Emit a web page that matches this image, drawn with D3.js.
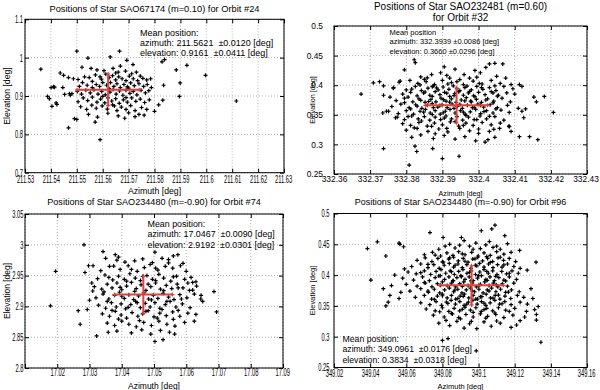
<!DOCTYPE html>
<html>
<head>
<meta charset="utf-8">
<script src="https://cdn.jsdelivr.net/npm/d3@7"></script>
<style>
body { margin: 0; background: #fff; }
svg text { font-family: "Liberation Sans", Arial, Helvetica, sans-serif; fill: #000; }
.grid line { stroke: #b0b0b0; stroke-width: 1; stroke-dasharray: 1,2; }
.axis path { display: none; }
.axis line { stroke: #000; }
</style>
</head>
<body>
<svg id="chart" width="600" height="390"></svg>
<script>
// star positions per orbit, [azimuth, elevation] in deg
var orbit24 = [
  [211.5361,0.970],[211.5387,0.899],[211.5394,0.893],[211.5401,0.922],[211.5414,0.923],[211.5404,0.873],
  [211.5423,0.878],[211.5436,0.960],[211.5449,0.954],[211.5468,0.948],[211.5446,0.922],[211.5453,0.904],
  [211.5468,0.817],[211.5475,0.902],[211.5481,0.906],[211.5491,0.841],[211.5500,0.839],[211.5500,1.017],
  [211.5543,0.999],[211.5571,0.832],[211.5590,0.786],[211.5629,1.002],[211.5665,1.017],[211.5693,0.993],
  [211.5717,0.982],[211.5829,0.989],[211.5839,0.995],[211.5884,0.968],[211.5925,0.980],[211.5899,0.934],
  [211.5896,0.899],[211.5997,0.954],[211.6116,0.887],[211.5835,0.928],[211.5832,0.889],[211.5816,0.877],
  [211.5800,0.860],[211.5410,0.924],[211.5420,0.882],[211.5472,0.906],[211.5487,0.945],
  [211.5520,0.975],[211.5555,0.972],[211.5578,0.968],[211.5605,0.966],[211.5640,0.972],[211.5660,0.962],
  [211.5668,0.978],[211.5688,0.965],[211.5712,0.958],[211.5730,0.962],[211.5745,0.952],
  [211.5505,0.943],[211.5530,0.950],[211.5548,0.948],[211.5572,0.955],[211.5595,0.944],[211.5612,0.957],
  [211.5625,0.948],[211.5638,0.953],[211.5650,0.942],[211.5662,0.950],[211.5675,0.945],[211.5690,0.940],
  [211.5703,0.952],[211.5718,0.945],[211.5735,0.940],[211.5755,0.946],[211.5770,0.942],[211.5785,0.945],
  [211.5510,0.925],[211.5522,0.935],[211.5540,0.928],[211.5560,0.938],[211.5575,0.930],[211.5588,0.925],
  [211.5600,0.935],[211.5615,0.928],[211.5630,0.935],[211.5643,0.925],[211.5655,0.932],[211.5668,0.922],
  [211.5682,0.930],[211.5695,0.924],[211.5708,0.934],[211.5722,0.927],[211.5740,0.932],[211.5758,0.925],
  [211.5772,0.930],[211.5788,0.922],
  [211.5502,0.912],[211.5518,0.905],[211.5535,0.915],[211.5552,0.908],[211.5566,0.916],[211.5582,0.905],
  [211.5596,0.912],[211.5610,0.903],[211.5628,0.910],[211.5640,0.917],[211.5652,0.905],[211.5665,0.913],
  [211.5678,0.902],[211.5690,0.915],[211.5705,0.907],[211.5718,0.912],[211.5732,0.903],[211.5748,0.915],
  [211.5765,0.908],[211.5778,0.914],
  [211.5505,0.885],[211.5525,0.895],[211.5542,0.888],[211.5560,0.897],[211.5578,0.884],[211.5592,0.892],
  [211.5608,0.882],[211.5620,0.895],[211.5635,0.887],[211.5650,0.893],[211.5664,0.881],[211.5680,0.890],
  [211.5695,0.884],[211.5712,0.895],[211.5728,0.886],[211.5745,0.892],[211.5762,0.883],[211.5780,0.890],
  [211.5515,0.872],[211.5538,0.865],[211.5558,0.876],[211.5575,0.868],[211.5598,0.874],[211.5618,0.866],
  [211.5638,0.877],[211.5655,0.862],[211.5672,0.871],[211.5690,0.865],[211.5708,0.875],[211.5725,0.862],
  [211.5750,0.870],[211.5770,0.865],
  [211.5545,0.852],[211.5580,0.845],[211.5620,0.855],[211.5660,0.848],[211.5685,0.842],[211.5700,0.856],
  [211.5725,0.846],[211.5740,0.852],[211.5760,0.850],
  [211.5590,0.950],[211.5650,0.960],[211.5700,0.9205],[211.5625,0.919],[211.5600,0.899],[211.5690,0.896],
  [211.5645,0.874],[211.5560,0.922]
]

var orbit32 = [
  [332.3675,0.385],[332.3709,0.404],[332.3726,0.406],[332.3737,0.399],[332.3737,0.383],[332.3735,0.353],
  [332.3737,0.293],[332.3751,0.356],[332.3755,0.380],[332.3764,0.395],[332.3775,0.346],[332.3783,0.407],
  [332.3808,0.265],[332.3824,0.297],[332.3829,0.288],[332.3873,0.293],[332.3900,0.276],[332.3946,0.280],
  [332.4067,0.436],[332.4113,0.401],[332.4120,0.398],[332.4153,0.380],[332.4160,0.372],[332.4182,0.381],
  [332.4207,0.354],[332.4113,0.313],[332.4141,0.313],[332.4164,0.308],[332.4084,0.331],[332.4120,0.356],
  [332.4125,0.345],[332.4090,0.322],[332.4130,0.360],
  [332.3795,0.426],[332.3822,0.443],[332.3825,0.438],[332.3905,0.431],[332.3935,0.427],[332.3990,0.425],
  [332.4030,0.436],[332.4045,0.437],[332.4020,0.430],
  [332.3840,0.414],[332.3870,0.418],[332.3895,0.421],[332.3920,0.412],[332.3960,0.418],[332.3975,0.412],
  [332.4005,0.421],[332.4050,0.415],[332.4075,0.412],[332.3850,0.410],
  [332.3780,0.405],[332.3810,0.408],[332.3832,0.403],[332.3855,0.406],[332.3878,0.401],[332.3900,0.408],
  [332.3915,0.402],[332.3940,0.406],[332.3958,0.401],[332.3985,0.407],[332.4010,0.402],[332.4035,0.408],
  [332.4060,0.403],[332.4090,0.401],
  [332.3765,0.396],[332.3800,0.392],[332.3825,0.398],[332.3842,0.391],[332.3860,0.395],[332.3875,0.399],
  [332.3888,0.392],[332.3902,0.397],[332.3918,0.393],[332.3930,0.399],[332.3948,0.391],[332.3962,0.396],
  [332.3980,0.392],[332.3995,0.398],[332.4012,0.393],[332.4030,0.396],[332.4048,0.391],[332.4070,0.398],
  [332.4095,0.394],
  [332.3790,0.385],[332.3812,0.388],[332.3830,0.382],[332.3848,0.387],[332.3865,0.383],[332.3880,0.389],
  [332.3893,0.384],[332.3906,0.388],[332.3920,0.381],[332.3934,0.386],[332.3945,0.389],[332.3958,0.383],
  [332.3972,0.387],[332.3986,0.382],[332.4000,0.388],[332.4018,0.384],[332.4035,0.389],[332.4055,0.383],
  [332.4078,0.387],[332.4100,0.385],
  [332.3772,0.374],[332.3795,0.378],[332.3818,0.372],[332.3835,0.377],[332.3852,0.371],[332.3868,0.376],
  [332.3882,0.372],[332.3896,0.378],[332.3910,0.373],[332.3925,0.377],[332.3938,0.371],[332.3952,0.375],
  [332.3966,0.379],[332.3980,0.372],[332.3994,0.376],[332.4008,0.371],[332.4025,0.377],[332.4042,0.373],
  [332.4065,0.378],[332.4088,0.372],
  [332.3760,0.364],[332.3785,0.368],[332.3808,0.362],[332.3826,0.367],[332.3843,0.361],[332.3858,0.366],
  [332.3872,0.369],[332.3887,0.363],[332.3899,0.367],[332.3913,0.362],[332.3927,0.368],[332.3941,0.364],
  [332.3955,0.361],[332.3969,0.366],[332.3983,0.362],[332.3998,0.368],[332.4014,0.363],[332.4032,0.367],
  [332.4052,0.362],[332.4080,0.366],[332.4110,0.361],
  [332.3745,0.356],[332.3778,0.352],[332.3800,0.357],[332.3820,0.351],[332.3838,0.356],[332.3853,0.359],
  [332.3866,0.353],[332.3880,0.357],[332.3894,0.351],[332.3908,0.356],[332.3921,0.359],[332.3935,0.353],
  [332.3950,0.357],[332.3963,0.351],[332.3977,0.355],[332.3992,0.359],[332.4006,0.352],[332.4022,0.357],
  [332.4040,0.353],[332.4062,0.358],[332.4085,0.354],
  [332.3770,0.345],[332.3795,0.342],[332.3815,0.348],[332.3833,0.343],[332.3850,0.347],[332.3865,0.341],
  [332.3880,0.346],[332.3895,0.342],[332.3910,0.348],[332.3925,0.343],[332.3940,0.347],[332.3956,0.341],
  [332.3972,0.346],[332.3988,0.342],[332.4004,0.348],[332.4022,0.343],[332.4045,0.347],[332.4070,0.341],
  [332.3790,0.335],[332.3812,0.332],[332.3835,0.337],[332.3858,0.331],[332.3878,0.336],[332.3900,0.333],
  [332.3922,0.338],[332.3945,0.331],[332.3965,0.336],[332.3985,0.332],[332.4010,0.337],[332.4035,0.333],
  [332.4060,0.336],
  [332.3800,0.324],[332.3830,0.327],[332.3860,0.322],[332.3890,0.326],[332.3915,0.321],[332.3948,0.327],
  [332.3975,0.323],[332.4000,0.326],[332.4030,0.322],[332.4058,0.327],[332.4085,0.330],
  [332.3815,0.312],[332.3840,0.316],[332.3875,0.310],[332.3905,0.315],[332.3935,0.309],[332.3962,0.313],
  [332.3992,0.306],[332.4018,0.304],[332.4026,0.308],[332.4045,0.312],[332.3880,0.318],
  [332.3858,0.4125],[332.3912,0.4165],[332.3948,0.4095],[332.3995,0.4135],
  [332.3838,0.4005],[332.3872,0.3975],[332.3925,0.4045],[332.3968,0.3985],[332.4002,0.4030],[332.4045,0.3990],
  [332.3815,0.3935],[332.3852,0.3885],[332.3884,0.3955],[332.3912,0.3865],[332.3940,0.3940],[332.3975,0.3895],
  [332.4008,0.3960],[332.4040,0.3870],
  [332.3805,0.3800],[332.3840,0.3745],[332.3872,0.3810],[332.3903,0.3755],[332.3932,0.3825],[332.3962,0.3735],
  [332.3990,0.3805],[332.4020,0.3750],[332.4052,0.3815],
  [332.3795,0.3705],[332.3830,0.3645],[332.3862,0.3725],[332.3893,0.3655],[332.3920,0.3715],[332.3948,0.3675],
  [332.3978,0.3730],[332.4005,0.3660],[332.4040,0.3700],
  [332.3812,0.3600],[332.3848,0.3545],[332.3875,0.3620],[332.3902,0.3535],[332.3932,0.3610],[332.3958,0.3545],
  [332.3988,0.3625],[332.4015,0.3555],[332.4048,0.3600],
  [332.3805,0.3470],[332.3842,0.3395],[332.3872,0.3505],[332.3905,0.3445],[332.3935,0.3385],[332.3965,0.3490],
  [332.3995,0.3420],[332.4030,0.3475],
  [332.3822,0.3280],[332.3870,0.3305],[332.3912,0.3270],[332.3958,0.3320],[332.4000,0.3185],[332.4042,0.3255]
]

var orbit74 = [
  [17.0179,2.901],[17.0195,2.957],[17.0283,3.000],[17.0271,2.871],[17.0265,2.893],[17.0293,2.895],
  [17.0297,2.966],[17.0286,2.955],[17.0307,2.938],[17.0311,2.966],[17.0322,2.852],[17.0342,2.989],
  [17.0358,2.858],[17.0380,2.984],[17.0390,2.980],[17.0503,2.843],[17.0528,2.846],[17.0503,2.988],
  [17.0564,2.855],[17.0574,2.984],[17.0625,2.876],[17.0630,2.887],[17.0686,2.924],[17.0694,2.891],
  [17.0646,2.918],[17.0651,2.908],[17.0620,2.939],[17.0300,2.910],[17.0310,2.925],
  [17.0350,2.978],[17.0385,2.975],[17.0410,2.972],[17.0440,2.974],[17.0465,2.977],[17.0495,2.971],
  [17.0525,2.978],[17.0545,2.976],[17.0560,2.982],[17.0590,2.970],
  [17.0335,2.958],[17.0362,2.965],[17.0395,2.960],[17.0420,2.966],[17.0448,2.957],[17.0470,2.963],
  [17.0488,2.968],[17.0512,2.959],[17.0535,2.965],[17.0558,2.962],[17.0582,2.966],[17.0600,2.957],
  [17.0325,2.945],[17.0348,2.951],[17.0372,2.943],[17.0390,2.949],[17.0408,2.944],[17.0425,2.953],
  [17.0442,2.946],[17.0458,2.942],[17.0478,2.950],[17.0495,2.944],[17.0515,2.952],[17.0530,2.946],
  [17.0552,2.941],[17.0570,2.949],[17.0595,2.944],[17.0615,2.947],[17.0630,2.940],
  [17.0315,2.932],[17.0338,2.928],[17.0355,2.936],[17.0370,2.930],[17.0385,2.938],[17.0400,2.927],
  [17.0415,2.933],[17.0430,2.939],[17.0445,2.929],[17.0460,2.935],[17.0475,2.926],[17.0490,2.932],
  [17.0505,2.938],[17.0520,2.928],[17.0538,2.934],[17.0555,2.929],[17.0572,2.936],[17.0590,2.930],
  [17.0610,2.926],[17.0632,2.933],
  [17.0320,2.914],[17.0342,2.920],[17.0360,2.912],[17.0378,2.918],[17.0393,2.923],[17.0408,2.913],
  [17.0422,2.919],[17.0437,2.911],[17.0452,2.917],[17.0468,2.922],[17.0483,2.912],[17.0498,2.918],
  [17.0512,2.913],[17.0528,2.921],[17.0545,2.915],[17.0562,2.911],[17.0580,2.919],[17.0602,2.914],
  [17.0625,2.920],[17.0645,2.912],
  [17.0328,2.902],[17.0350,2.897],[17.0368,2.906],[17.0383,2.899],[17.0398,2.904],[17.0412,2.896],
  [17.0428,2.903],[17.0443,2.908],[17.0458,2.898],[17.0473,2.905],[17.0488,2.899],[17.0503,2.906],
  [17.0518,2.897],[17.0535,2.903],[17.0550,2.908],[17.0568,2.899],[17.0588,2.904],[17.0612,2.898],
  [17.0340,2.888],[17.0362,2.884],[17.0380,2.892],[17.0398,2.886],[17.0415,2.881],[17.0432,2.890],
  [17.0450,2.884],[17.0465,2.888],[17.0482,2.893],[17.0500,2.883],[17.0518,2.889],[17.0538,2.885],
  [17.0558,2.891],[17.0580,2.884],[17.0605,2.889],
  [17.0355,2.873],[17.0378,2.869],[17.0400,2.876],[17.0422,2.871],[17.0445,2.867],[17.0468,2.874],
  [17.0492,2.869],[17.0515,2.876],[17.0540,2.871],[17.0565,2.868],[17.0595,2.874],
  [17.0385,2.860],[17.0430,2.857],[17.0462,2.862],[17.0490,2.855],[17.0520,2.861],[17.0548,2.858],
  [17.0375,2.9655],[17.0430,2.9600],[17.0505,2.9620],[17.0545,2.9705],
  [17.0360,2.9470],[17.0415,2.9410],[17.0465,2.9485],[17.0505,2.9420],[17.0560,2.9480],[17.0605,2.9380],
  [17.0345,2.9235],[17.0395,2.9310],[17.0440,2.9245],[17.0482,2.9360],[17.0530,2.9255],[17.0575,2.9300],
  [17.0620,2.9265],
  [17.0355,2.9080],[17.0400,2.9165],[17.0448,2.9060],[17.0492,2.9105],[17.0540,2.9080],[17.0585,2.9120],
  [17.0370,2.8935],[17.0420,2.8985],[17.0475,2.8920],[17.0525,2.8950],[17.0575,2.8935],
  [17.0390,2.8795],[17.0455,2.8770],[17.0510,2.8810],[17.0560,2.8790]
]

var orbit96 = [
  [349.0385,0.443],[349.0440,0.454],[349.0404,0.392],[349.0487,0.431],[349.0473,0.378],[349.0487,0.350],
  [349.0500,0.356],[349.0509,0.367],[349.0518,0.383],[349.0536,0.400],[349.0560,0.452],[349.0565,0.450],
  [349.0585,0.446],[349.0731,0.469],[349.0800,0.294],[349.0831,0.297],[349.0804,0.461],[349.0905,0.461],
  [349.0987,0.277],[349.1015,0.472],[349.1091,0.481],[349.1073,0.475],[349.1145,0.464],[349.1227,0.440],
  [349.1345,0.291],[349.1318,0.421],[349.1269,0.408],[349.0560,0.362],[349.0590,0.410],[349.0570,0.372],
  [349.1290,0.378],[349.1300,0.362],[349.1330,0.349],
  [349.0780,0.442],[349.0840,0.450],[349.0870,0.444],[349.0920,0.456],[349.0950,0.447],[349.0985,0.452],
  [349.1010,0.443],[349.1040,0.449],[349.1080,0.445],[349.1120,0.442],[349.1160,0.451],
  [349.0700,0.433],[349.0745,0.437],[349.0790,0.431],[349.0825,0.436],[349.0858,0.432],[349.0890,0.438],
  [349.0925,0.433],[349.0962,0.437],[349.0998,0.431],[349.1030,0.436],[349.1065,0.432],[349.1100,0.438],
  [349.1140,0.434],[349.1180,0.437],
  [349.0660,0.424],[349.0705,0.428],[349.0742,0.422],[349.0775,0.427],[349.0805,0.421],[349.0835,0.426],
  [349.0862,0.429],[349.0888,0.423],[349.0915,0.427],[349.0942,0.421],[349.0968,0.426],[349.0995,0.429],
  [349.1022,0.423],[349.1050,0.427],[349.1078,0.422],[349.1108,0.428],[349.1138,0.424],[349.1170,0.427],
  [349.1205,0.422],
  [349.0630,0.414],[349.0680,0.418],[349.0720,0.412],[349.0752,0.417],[349.0782,0.411],[349.0810,0.416],
  [349.0838,0.419],[349.0862,0.413],[349.0886,0.418],[349.0910,0.412],[349.0935,0.417],[349.0958,0.411],
  [349.0982,0.416],[349.1006,0.419],[349.1030,0.413],[349.1055,0.418],[349.1080,0.412],[349.1105,0.417],
  [349.1130,0.413],[349.1160,0.418],[349.1195,0.414],[349.1230,0.411],
  [349.0610,0.405],[349.0655,0.402],[349.0700,0.407],[349.0735,0.401],[349.0765,0.406],[349.0792,0.409],
  [349.0818,0.403],[349.0843,0.407],[349.0866,0.401],[349.0890,0.406],[349.0913,0.409],[349.0936,0.403],
  [349.0960,0.407],[349.0983,0.401],[349.1007,0.405],[349.1030,0.409],[349.1054,0.403],[349.1078,0.407],
  [349.1102,0.401],[349.1128,0.406],[349.1155,0.402],[349.1185,0.407],[349.1220,0.403],
  [349.0580,0.395],[349.0640,0.392],[349.0690,0.397],[349.0728,0.391],[349.0760,0.396],[349.0788,0.399],
  [349.0812,0.393],[349.0836,0.397],[349.0858,0.391],[349.0880,0.396],[349.0902,0.399],[349.0925,0.393],
  [349.0948,0.397],[349.0970,0.391],[349.0994,0.395],[349.1016,0.399],[349.1040,0.393],[349.1063,0.397],
  [349.1088,0.391],[349.1112,0.396],[349.1140,0.392],[349.1170,0.397],[349.1210,0.393],
  [349.0600,0.385],[349.0660,0.382],[349.0705,0.387],[349.0742,0.381],[349.0772,0.386],[349.0800,0.389],
  [349.0826,0.383],[349.0850,0.387],[349.0873,0.381],[349.0896,0.386],[349.0918,0.389],[349.0942,0.383],
  [349.0965,0.387],[349.0988,0.381],[349.1010,0.385],[349.1034,0.389],[349.1058,0.383],[349.1082,0.387],
  [349.1106,0.381],[349.1132,0.386],[349.1160,0.382],[349.1195,0.387],
  [349.0620,0.374],[349.0680,0.378],[349.0722,0.372],[349.0755,0.377],[349.0785,0.371],[349.0812,0.376],
  [349.0838,0.379],[349.0862,0.373],[349.0885,0.377],[349.0908,0.371],[349.0932,0.376],[349.0955,0.379],
  [349.0978,0.373],[349.1002,0.377],[349.1025,0.371],[349.1048,0.376],[349.1072,0.379],[349.1096,0.373],
  [349.1122,0.377],[349.1150,0.372],[349.1182,0.376],[349.1225,0.373],
  [349.0650,0.364],[349.0700,0.367],[349.0740,0.361],[349.0772,0.366],[349.0800,0.369],[349.0826,0.363],
  [349.0850,0.367],[349.0874,0.361],[349.0898,0.366],[349.0922,0.369],[349.0946,0.363],[349.0970,0.367],
  [349.0994,0.361],[349.1018,0.365],[349.1042,0.369],[349.1066,0.363],[349.1092,0.367],[349.1118,0.361],
  [349.1146,0.366],[349.1178,0.362],[349.1215,0.367],[349.1250,0.364],
  [349.0680,0.355],[349.0730,0.352],[349.0765,0.357],[349.0795,0.351],[349.0822,0.356],[349.0848,0.359],
  [349.0872,0.353],[349.0896,0.357],[349.0920,0.351],[349.0944,0.356],[349.0968,0.359],[349.0992,0.353],
  [349.1016,0.357],[349.1040,0.351],[349.1064,0.355],[349.1090,0.359],[349.1116,0.353],[349.1145,0.357],
  [349.1180,0.352],[349.1230,0.356],[349.1270,0.353],
  [349.0710,0.345],[349.0760,0.342],[349.0800,0.347],[349.0835,0.341],[349.0865,0.346],[349.0895,0.342],
  [349.0925,0.348],[349.0955,0.343],[349.0985,0.347],[349.1015,0.341],[349.1045,0.346],[349.1078,0.342],
  [349.1110,0.347],[349.1150,0.343],[349.1200,0.346],[349.1265,0.341],[349.1310,0.344],
  [349.0750,0.335],[349.0810,0.332],[349.0855,0.337],[349.0890,0.331],[349.0930,0.336],[349.0970,0.332],
  [349.1010,0.337],[349.1050,0.333],[349.1095,0.336],[349.1140,0.331],[349.1190,0.335],[349.1255,0.332],
  [349.1320,0.336],
  [349.0780,0.322],[349.0840,0.318],[349.0880,0.325],[349.0920,0.314],[349.0950,0.321],[349.0990,0.313],
  [349.1030,0.324],[349.1070,0.317],[349.1120,0.322],[349.1180,0.315],[349.1230,0.326],[349.1320,0.327],
  [349.0815,0.4470],[349.0895,0.4485],[349.0970,0.4420],[349.1060,0.4545],[349.1100,0.4470],
  [349.0760,0.4325],[349.0840,0.4280],[349.0910,0.4345],[349.0980,0.4265],[349.1045,0.4300],[349.1120,0.4290],
  [349.0720,0.4175],[349.0800,0.4215],[349.0870,0.4160],[349.0925,0.4225],[349.0990,0.4150],[349.1065,0.4205],
  [349.1140,0.4165],
  [349.0680,0.4040],[349.0780,0.3985],[349.0850,0.4055],[349.0905,0.3975],[349.0950,0.4045],[349.1000,0.3990],
  [349.1045,0.4060],[349.1095,0.3980],[349.1170,0.4030],
  [349.0700,0.3880],[349.0790,0.3835],[349.0860,0.3910],[349.0910,0.3815],[349.0958,0.3905],[349.1002,0.3830],
  [349.1048,0.3915],[349.1098,0.3840],[349.1150,0.3905],
  [349.0720,0.3740],[349.0800,0.3665],[349.0868,0.3755],[349.0915,0.3655],[349.0965,0.3745],[349.1010,0.3650],
  [349.1058,0.3740],[349.1110,0.3675],[349.1165,0.3725],
  [349.0755,0.3605],[349.0830,0.3540],[349.0885,0.3620],[349.0935,0.3530],[349.0985,0.3610],[349.1030,0.3545],
  [349.1080,0.3625],[349.1130,0.3535],
  [349.0785,0.3405],[349.0850,0.3380],[349.0910,0.3445],[349.0970,0.3395],[349.1030,0.3440],[349.1090,0.3385],
  [349.1170,0.3410],
  [349.0820,0.3265],[349.0900,0.3290],[349.0960,0.3250],[349.1040,0.3300],[349.1100,0.3255],[349.1210,0.3190]
]

// mean position and 1-sigma spread, [azimuth, elevation]
var mean24 = [211.5621, 0.9161], sd24 = [0.0120, 0.0411]
var mean32 = [332.3939, 0.3660], sd32 = [0.0086, 0.0296]
var mean74 = [17.0467, 2.9192], sd74 = [0.0090, 0.0301]
var mean96 = [349.0961, 0.3834], sd96 = [0.0176, 0.0318]

var titles = [
  ['Positions of Star SAO67174 (m=0.10) for Orbit #24'],
  ['Positions of Star SAO232481 (m=0.60)', 'for Orbit #32'],
  ['Positions of Star SAO234480 (m=-0.90) for Orbit #74'],
  ['Positions of Star SAO234480 (m=-0.90) for Orbit #96']
]

var notes = [
  ['Mean position:', 'azimuth: 211.5621  \u00b10.0120 [deg]', 'elevation: 0.9161  \u00b10.0411 [deg]'],
  ['Mean position', 'azimuth: 332.3939 \u00b10.0086 [deg]', 'elevation: 0.3660 \u00b10.0296 [deg]'],
  ['Mean position:', 'azimuth: 17.0467  \u00b10.0090 [deg]', 'elevation: 2.9192  \u00b10.0301 [deg]'],
  ['Mean position:', 'azimuth: 349.0961  \u00b10.0176 [deg]', 'elevation: 0.3834  \u00b10.0318 [deg]']
]

// ticks and their labels
var xt24 = [211.53,211.54,211.55,211.56,211.57,211.58,211.59,211.60,211.61,211.62,211.63]
var xl24 = ['211.53','211.54','211.55','211.56','211.57','211.58','211.59','211.6','211.61','211.62','211.63']
var yt24 = [0.7,0.8,0.9,1.0,1.1]
var yl24 = ['0.7','0.8','0.9','1','1.1']

var xt32 = [332.36,332.37,332.38,332.39,332.40,332.41,332.42,332.43]
var xl32 = ['332.36','332.37','332.38','332.39','332.4','332.41','332.42','332.43']
var yt32 = [0.25,0.30,0.35,0.40,0.45,0.50]
var yl32 = ['0.25','0.3','0.35','0.4','0.45','0.5']

var xt74 = [17.01,17.02,17.03,17.04,17.05,17.06,17.07,17.08,17.09]
var xl74 = ['','17.02','17.03','17.04','17.05','17.06','17.07','17.08','17.09']
var yt74 = [2.80,2.85,2.90,2.95,3.00,3.05]
var yl74 = ['2.8','2.85','2.9','2.95','3','3.05']

var xt96 = [349.02,349.04,349.06,349.08,349.10,349.12,349.14,349.16]
var xl96 = ['349.02','349.04','349.06','349.08','349.1','349.12','349.14','349.16']
var yt96 = [0.25,0.30,0.35,0.40,0.45,0.50]
var yl96 = ['0.25','0.3','0.35','0.4','0.45','0.5']

// layout of the four subplots
var panels = [
  {pts: orbit24, mean: mean24, sd: sd24, title: titles[0], note: notes[0],
   xt: xt24, xl: xl24, yt: yt24, yl: yl24,
   box: {l: 25, t: 19.3, r: 284, b: 172.7}, squeeze: 0.55, tickFont: 10.5, xPad: 3, yPad: 2,
   titleY: [11.5], titleFont: 9.3, noteX: 140, noteY: 35.5, noteFont: 9, noteGap: 10,
   labFont: 8.7, xlabY: 194, ylabX: 10.3},
  {pts: orbit32, mean: mean32, sd: sd32, title: titles[1], note: notes[1],
   xt: xt32, xl: xl32, yt: yt32, yl: yl32,
   box: {l: 334, t: 26, r: 587, b: 174}, squeeze: 1, tickFont: 8.4, xPad: 2, yPad: 11,
   titleY: [10, 20.5], titleFont: 10, noteX: 389.5, noteY: 35, noteFont: 7.5, noteGap: 9.4,
   labFont: 7.2, xlabY: 195.5, ylabX: 314.5},
  {pts: orbit74, mean: mean74, sd: sd74, title: titles[2], note: notes[2],
   xt: xt74, xl: xl74, yt: yt74, yl: yl74,
   box: {l: 25, t: 214, r: 283, b: 368}, squeeze: 0.55, tickFont: 10.5, xPad: 1, yPad: 1.5,
   titleY: [205], titleFont: 9.1, noteX: 147.5, noteY: 226.5, noteFont: 8.9, noteGap: 10.8,
   labFont: 8.5, xlabY: 389, ylabX: 10},
  {pts: orbit96, mean: mean96, sd: sd96, title: titles[3], note: notes[3],
   xt: xt96, xl: xl96, yt: yt96, yl: yl96,
   box: {l: 334, t: 213.5, r: 587, b: 367.5}, squeeze: 0.55, tickFont: 10.5, xPad: 2.5, yPad: 4.5,
   titleY: [205], titleFont: 9, noteX: 342.5, noteY: 341.5, noteFont: 8.7, noteGap: 10.7,
   labFont: 7.5, xlabY: 389, ylabX: 314.5}
]

var svg = d3.select('#chart')

// a '+' marker path of half-size h
function plus(h){
  return 'M' + (-h) + ',0H' + h + 'M0,' + (-h) + 'V' + h
}

panels.forEach(function(p){
  var b = p.box
  var x = d3.scaleLinear()
            .domain(d3.extent(p.xt))
            .range([b.l, b.r])
  var y = d3.scaleLinear()
            .domain(d3.extent(p.yt))
            .range([b.b, b.t])

  var g = svg.append('g')

  // dotted grid
  var grid = g.append('g').attr('class','grid')
  grid.selectAll('.gx')
      .data(p.xt)
      .enter()
      .append('line')
      .attr('x1',function(d){return x(d)})
      .attr('x2',function(d){return x(d)})
      .attr('y1',b.t)
      .attr('y2',b.b)
  grid.selectAll('.gy')
      .data(p.yt)
      .enter()
      .append('line')
      .attr('y1',function(d){return y(d)})
      .attr('y2',function(d){return y(d)})
      .attr('x1',b.l)
      .attr('x2',b.r)

  // star positions
  g.append('g')
   .selectAll('path')
   .data(p.pts)
   .enter()
   .append('path')
   .attr('d', plus(2))
   .attr('transform',function(d){return 'translate('+x(d[0])+','+y(d[1])+')'})
   .style('stroke','#000')
   .style('stroke-width',1.2)
   .style('fill','none')

  // mean +/- sigma cross
  var red = '#e0403c'
  var cross = g.append('g').style('stroke',red).style('stroke-width',2).style('fill','none')
  cross.append('line')
       .attr('x1',x(p.mean[0]-p.sd[0])).attr('x2',x(p.mean[0]+p.sd[0]))
       .attr('y1',y(p.mean[1])).attr('y2',y(p.mean[1]))
  cross.append('line')
       .attr('x1',x(p.mean[0])).attr('x2',x(p.mean[0]))
       .attr('y1',y(p.mean[1]-p.sd[1])).attr('y2',y(p.mean[1]+p.sd[1]))
  var ends = [[p.mean[0]-p.sd[0],p.mean[1]],[p.mean[0]+p.sd[0],p.mean[1]],
              [p.mean[0],p.mean[1]-p.sd[1]],[p.mean[0],p.mean[1]+p.sd[1]]]
  cross.selectAll('.end')
       .data(ends)
       .enter()
       .append('path')
       .attr('d', plus(2))
       .attr('transform',function(d){return 'translate('+x(d[0])+','+y(d[1])+')'})
       .style('stroke-width',1.2)

  // axes with ticks pointing inward, MATLAB style
  var xAxis = d3.axisBottom(x)
                .tickValues(p.xt)
                .tickFormat(function(d,i){return p.xl[i]})
                .tickSizeInner(-4)
                .tickSizeOuter(0)
                .tickPadding(p.xPad)
  var yAxis = d3.axisLeft(y)
                .tickValues(p.yt)
                .tickFormat(function(d,i){return p.yl[i]})
                .tickSizeInner(-4)
                .tickSizeOuter(0)
                .tickPadding(p.yPad)

  var gx = g.append('g')
            .attr('class','axis')
            .attr('transform','translate(0,'+b.b+')')
            .call(xAxis)
  var gy = g.append('g')
            .attr('class','axis')
            .attr('transform','translate('+b.l+',0)')
            .call(yAxis)

  g.append('g').attr('class','axis')
   .attr('transform','translate(0,'+b.t+')')
   .call(d3.axisTop(x).tickValues(p.xt).tickFormat('').tickSizeInner(-4).tickSizeOuter(0))
  g.append('g').attr('class','axis')
   .attr('transform','translate('+b.r+',0)')
   .call(d3.axisRight(y).tickValues(p.yt).tickFormat('').tickSizeInner(-4).tickSizeOuter(0))

  gx.selectAll('text')
    .style('font-size',p.tickFont+'px')
    .attr('transform','scale('+p.squeeze+',1)')
  // keep the last label inside the page
  gx.selectAll('.tick:last-of-type text').attr('dx',-1.5)
  gy.selectAll('text')
    .style('font-size',p.tickFont+'px')
    .attr('x',-p.yPad/p.squeeze)
    .attr('transform','scale('+p.squeeze+',1)')
  g.selectAll('.axis').attr('font-family',null)

  // box
  g.append('rect')
   .attr('x',b.l).attr('y',b.t)
   .attr('width',b.r-b.l).attr('height',b.b-b.t)
   .style('fill','none')
   .style('stroke','#000')
   .style('stroke-width',1)

  // title
  var cx = (b.l+b.r)/2
  p.title.forEach(function(t,i){
    g.append('text')
     .attr('x',cx)
     .attr('y',p.titleY[i])
     .attr('text-anchor','middle')
     .style('font-size',p.titleFont+'px')
     .text(t)
  })

  // mean position note
  g.selectAll('.note')
   .data(p.note)
   .enter()
   .append('text')
   .attr('x',p.noteX)
   .attr('y',function(d,i){return p.noteY+i*p.noteGap})
   .style('font-size',p.noteFont+'px')
   .style('white-space','pre')
   .text(function(d){return d})

  // axis labels
  g.append('text')
   .attr('x',cx)
   .attr('y',p.xlabY)
   .attr('text-anchor','middle')
   .style('font-size',p.labFont+'px')
   .text('Azimuth [deg]')
  g.append('text')
   .attr('transform','translate('+p.ylabX+','+((b.t+b.b)/2)+') rotate(-90)')
   .attr('text-anchor','middle')
   .style('font-size',p.labFont+'px')
   .text('Elevation [deg]')
})
</script>
</body>
</html>
